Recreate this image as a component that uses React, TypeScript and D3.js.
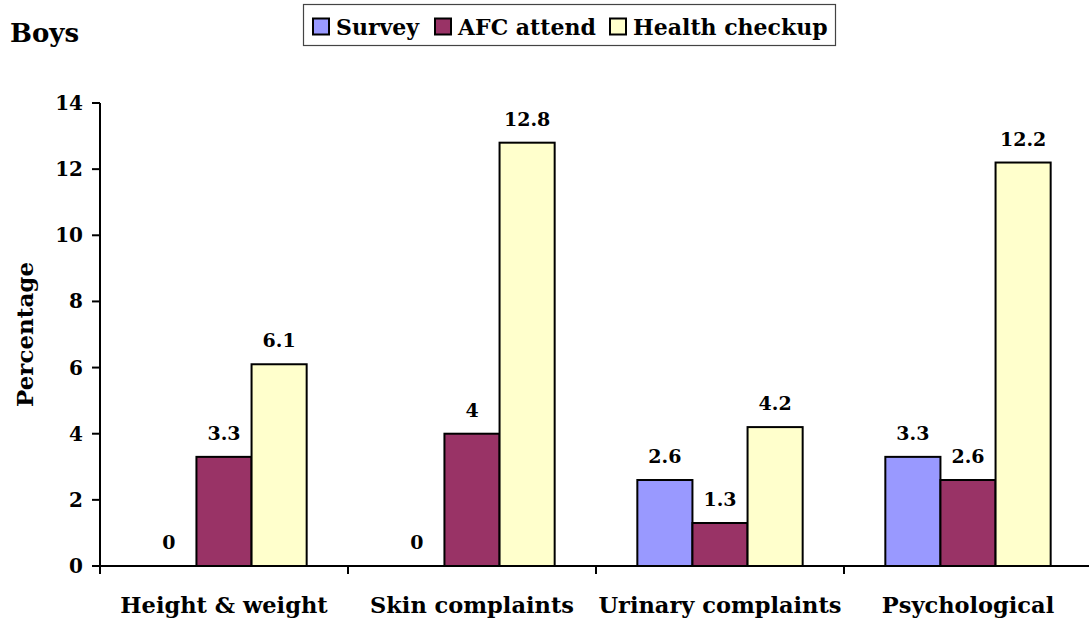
import React from 'react';
import * as d3 from 'd3';

const categories = ['Height & weight', 'Skin complaints', 'Urinary complaints', 'Psychological'];
const seriesNames = ['Survey', 'AFC attend', 'Health checkup'];
const survey = [0, 0, 2.6, 3.3];
const afcAttend = [3.3, 4, 1.3, 2.6];
const healthCheckup = [6.1, 12.8, 4.2, 12.2];
const seriesColors = ['#9999FF', '#993366', '#FFFFCC'];
const yTicks = [0, 2, 4, 6, 8, 10, 12, 14];

const font = 'DejaVu Serif';

export default function App() {
  const width = 1089;
  const height = 623;
  const margin = { left: 100, right: -3, top: 103, bottom: 57 };
  const series = [survey, afcAttend, healthCheckup];

  const x = d3.scaleBand<string>()
    .domain(categories)
    .range([margin.left, width - margin.right])
    .paddingInner(0)
    .paddingOuter(0);

  const inner = d3.scaleBand<number>()
    .domain([0, 1, 2])
    .range([0, x.bandwidth()])
    .paddingOuter(0.75)
    .paddingInner(0);

  const y = d3.scaleLinear()
    .domain([0, 14])
    .range([height - margin.bottom, margin.top]);

  const y0 = y(0);
  const boundaries = [...categories.map(c => x(c) as number), x.range()[1]];

  // legend swatch positions
  const legendX = [313, 435, 610];

  return (
    <svg width={width} height={height}
      style={{ position: 'absolute', left: 0, top: 0, display: 'block', background: '#fff', fontFamily: font }}
      fontWeight="bold">
      <text x={10} y={42} fontSize={26}>Boys</text>

      {/* legend */}
      <g>
        <rect x={303.5} y={4.5} width={532} height={41} fill="#fff" stroke="#444" strokeWidth={1.2} />
        {seriesNames.map((name, i) => (
          <g key={name}>
            <rect x={legendX[i]} y={18.5} width={16} height={16} fill={seriesColors[i]} stroke="#000" strokeWidth={2} />
            <text x={legendX[i] + 23} y={35} fontSize={22}>{name}</text>
          </g>
        ))}
      </g>

      {/* bars */}
      {series.map((vals, si) => (
        <g key={si}>
          {categories.map((c, ci) => {
            const bx = (x(c) as number) + (inner(si) as number);
            const v = vals[ci];
            return (
              <g key={c}>
                {v > 0 && (
                  <rect x={bx} y={y(v)} width={inner.bandwidth()} height={y0 - y(v)}
                    fill={seriesColors[si]} stroke="#000" strokeWidth={2} />
                )}
                <text x={bx + inner.bandwidth() / 2} y={y(v) - 17} fontSize={19} textAnchor="middle">
                  {String(v)}
                </text>
              </g>
            );
          })}
        </g>
      ))}

      {/* y axis */}
      <line x1={margin.left} x2={margin.left} y1={y(14)} y2={y0 + 8} stroke="#000" strokeWidth={2} />
      {yTicks.map(t => (
        <g key={t}>
          <line x1={margin.left - 8} x2={margin.left} y1={y(t)} y2={y(t)} stroke="#000" strokeWidth={2} />
          <text x={margin.left - 17} y={y(t) + 7} fontSize={20} textAnchor="end">{t}</text>
        </g>
      ))}
      <text transform={`translate(33, ${(y(14) + y0) / 2}) rotate(-90)`} fontSize={23} textAnchor="middle">
        Percentage
      </text>

      {/* x axis */}
      <line x1={margin.left - 8} x2={x.range()[1]} y1={y0} y2={y0} stroke="#000" strokeWidth={2} />
      {boundaries.map((b, i) => (
        <line key={i} x1={b} x2={b} y1={y0} y2={y0 + 8} stroke="#000" strokeWidth={2} />
      ))}
      {categories.map(c => (
        <text key={c} x={(x(c) as number) + x.bandwidth() / 2} y={613} fontSize={22.5} textAnchor="middle">
          {c}
        </text>
      ))}
    </svg>
  );
}
